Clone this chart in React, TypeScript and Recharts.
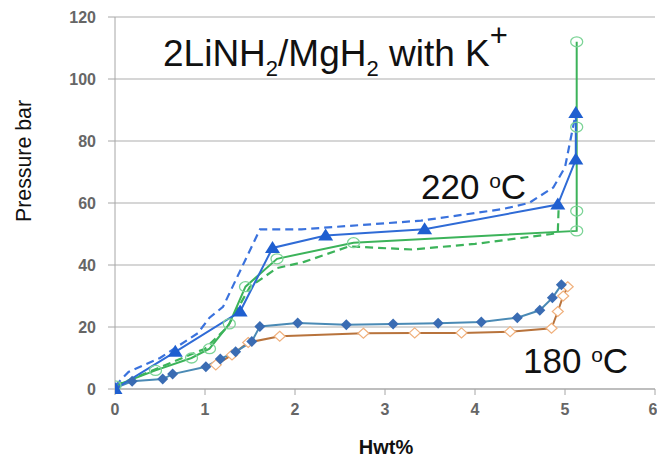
import React from "react";
import { CartesianGrid, Line, LineChart, XAxis, YAxis } from "recharts";

// Hwt% / pressure pairs, one pair of arrays per curve.
const ABS220_X = [0, 0.67, 1.39, 1.75, 2.34, 3.44, 4.92, 5.12, 5.12];
const ABS220_Y = [0, 12, 25, 45.5, 49.5, 51.5, 59.5, 74, 89];

const ABS220_DASH_X = [0, 0.15, 0.5, 0.92, 1.05, 1.2, 1.61, 2.07, 3.4, 4.3, 4.6, 4.87, 5.0, 5.12];
const ABS220_DASH_Y = [1, 5.5, 10, 18, 23, 26.5, 51.5, 51.5, 54.3, 58, 60, 65, 71.5, 89];

const DES220_X = [0, 0.45, 0.85, 1.05, 1.27, 1.45, 1.8, 2.65, 5.13, 5.13, 5.13, 5.13];
const DES220_Y = [1, 6, 10, 13, 21, 33, 42, 47.2, 51, 57.4, 84.5, 112];

const DES220_DASH_X = [0, 0.5, 1.0, 1.25, 1.5, 1.8, 2.1, 2.6, 3.3, 4.0, 4.85, 4.92, 4.93];
const DES220_DASH_Y = [1, 7, 13, 20, 33, 39, 41, 46, 45, 46.8, 50, 50.5, 59];

const ABS180_X = [0, 0.19, 0.53, 0.64, 1.01, 1.17, 1.34, 1.52, 1.61, 2.03, 2.57, 3.09, 3.59, 4.07, 4.47, 4.72, 4.86, 4.96];
const ABS180_Y = [0.3, 2.5, 3.2, 4.8, 7.2, 9.7, 12, 15.3, 20.2, 21.3, 20.7, 21, 21.2, 21.6, 23, 25.4, 29.4, 33.6];

const DES180_X = [1.12, 1.3, 1.48, 1.83, 2.76, 3.33, 3.85, 4.39, 4.85, 4.92, 4.98, 5.03];
const DES180_Y = [7.8, 11, 15, 17, 18, 18.1, 18.1, 18.5, 19.6, 25, 30, 33];

const X_TICKS = [0, 1, 2, 3, 4, 5, 6];
const Y_TICKS = [0, 20, 40, 60, 80, 100, 120];

const FONT = "'Liberation Sans', Arial, Helvetica, sans-serif";
const AXIS_GRAY = "#a6a6a6";

type Pt = { x: number; y: number };
const pairs = (xs: number[], ys: number[]): Pt[] => xs.map((x, i) => ({ x, y: ys[i] }));

type DotProps = { cx?: number; cy?: number; index?: number };

const triangleDot = (p: DotProps) => {
  const { cx = 0, cy = 0 } = p;
  return (
    <path
      key={`tri-${p.index}`}
      d={`M${cx},${cy - 7} L${cx + 7.5},${cy + 5} L${cx - 7.5},${cy + 5} Z`}
      fill="#1f5fd0"
    />
  );
};

const diamondDot = (p: DotProps) => {
  const { cx = 0, cy = 0 } = p;
  return (
    <path
      key={`dia-${p.index}`}
      d={`M${cx},${cy - 5.5} L${cx + 5.5},${cy} L${cx},${cy + 5.5} L${cx - 5.5},${cy} Z`}
      fill="#3a6cb3"
    />
  );
};

const openDiamondDot = (p: DotProps) => {
  const { cx = 0, cy = 0 } = p;
  return (
    <path
      key={`odia-${p.index}`}
      d={`M${cx},${cy - 5} L${cx + 5.5},${cy} L${cx},${cy + 5} L${cx - 5.5},${cy} Z`}
      fill="#ffffff"
      stroke="#f0b07c"
      strokeWidth={1.2}
    />
  );
};

const circleDot = (p: DotProps) => {
  const { cx = 0, cy = 0 } = p;
  return (
    <ellipse
      key={`c-${p.index}`}
      cx={cx}
      cy={cy}
      rx={6}
      ry={5}
      fill="none"
      stroke="#7dd497"
      strokeWidth={1.3}
    />
  );
};

function Annotations() {
  return (
    <svg
      width={657}
      height={462}
      style={{ position: "absolute", left: 0, top: 0, pointerEvents: "none" }}
      fontFamily={FONT}
    >
      <text x={163} y={66} fontSize={37} fill="#111">
        2LiNH
        <tspan dy={10} fontSize={22}>2</tspan>
        <tspan dy={-10}>/MgH</tspan>
        <tspan dy={10} fontSize={22}>2</tspan>
        <tspan dy={-10}> with K</tspan>
        <tspan dy={-20} fontSize={31}>+</tspan>
      </text>
      <text x={421} y={199} fontSize={35} fill="#111">
        220 <tspan dy={-11} fontSize={21}>o</tspan>
        <tspan dy={11}>C</tspan>
      </text>
      <text x={523} y={373} fontSize={35} fill="#111">
        180 <tspan dy={-11} fontSize={21}>o</tspan>
        <tspan dy={11}>C</tspan>
      </text>
      <text
        x={0}
        y={0}
        transform="translate(31 161) rotate(-90)"
        textAnchor="middle"
        fontSize={22}
        textLength={122}
        lengthAdjust="spacingAndGlyphs"
        fill="#111"
      >
        Pressure bar
      </text>
      <text x={386} y={454} textAnchor="middle" fontSize={20} fontWeight="bold" fill="#111">
        Hwt%
      </text>
    </svg>
  );
}

export default function App() {
  const tick = { fill: "#666666", fontSize: 16, fontWeight: "bold", fontFamily: FONT };
  return (
    <div style={{ position: "absolute", left: 0, top: 0, width: 657, height: 462, background: "#fff" }}>
      <LineChart width={657} height={462} margin={{ top: 17, right: 2, bottom: 0, left: 0 }}>
        <CartesianGrid vertical={false} stroke="#c8c8c8" strokeWidth={1.5} />
        <XAxis
          type="number"
          dataKey="x"
          domain={[0, 6]}
          ticks={X_TICKS}
          height={73}
          stroke={AXIS_GRAY}
          tickSize={6}
          tickMargin={9}
          tick={tick}
          allowDataOverflow
        />
        <YAxis
          type="number"
          domain={[0, 120]}
          ticks={Y_TICKS}
          width={115}
          stroke={AXIS_GRAY}
          tickSize={7}
          tickMargin={12}
          tick={tick}
        />
        <Line data={pairs(DES180_X, DES180_Y)} dataKey="y" type="linear" stroke="#b8733c" strokeWidth={2} dot={openDiamondDot} activeDot={false} isAnimationActive={false} />
        <Line data={pairs(ABS180_X, ABS180_Y)} dataKey="y" type="linear" stroke="#4a8ab5" strokeWidth={2} dot={diamondDot} activeDot={false} isAnimationActive={false} />
        <Line data={pairs(DES220_DASH_X, DES220_DASH_Y)} dataKey="y" type="linear" stroke="#3cb35a" strokeWidth={2.2} strokeDasharray="8 5" dot={false} activeDot={false} isAnimationActive={false} />
        <Line data={pairs(DES220_X, DES220_Y)} dataKey="y" type="linear" stroke="#3cb35a" strokeWidth={2} dot={circleDot} activeDot={false} isAnimationActive={false} />
        <Line data={pairs(ABS220_DASH_X, ABS220_DASH_Y)} dataKey="y" type="linear" stroke="#3a72dd" strokeWidth={2.2} strokeDasharray="8 5" dot={false} activeDot={false} isAnimationActive={false} />
        <Line data={pairs(ABS220_X, ABS220_Y)} dataKey="y" type="linear" stroke="#2f6bd6" strokeWidth={2} dot={triangleDot} activeDot={false} isAnimationActive={false} />
      </LineChart>
      <Annotations />
    </div>
  );
}
